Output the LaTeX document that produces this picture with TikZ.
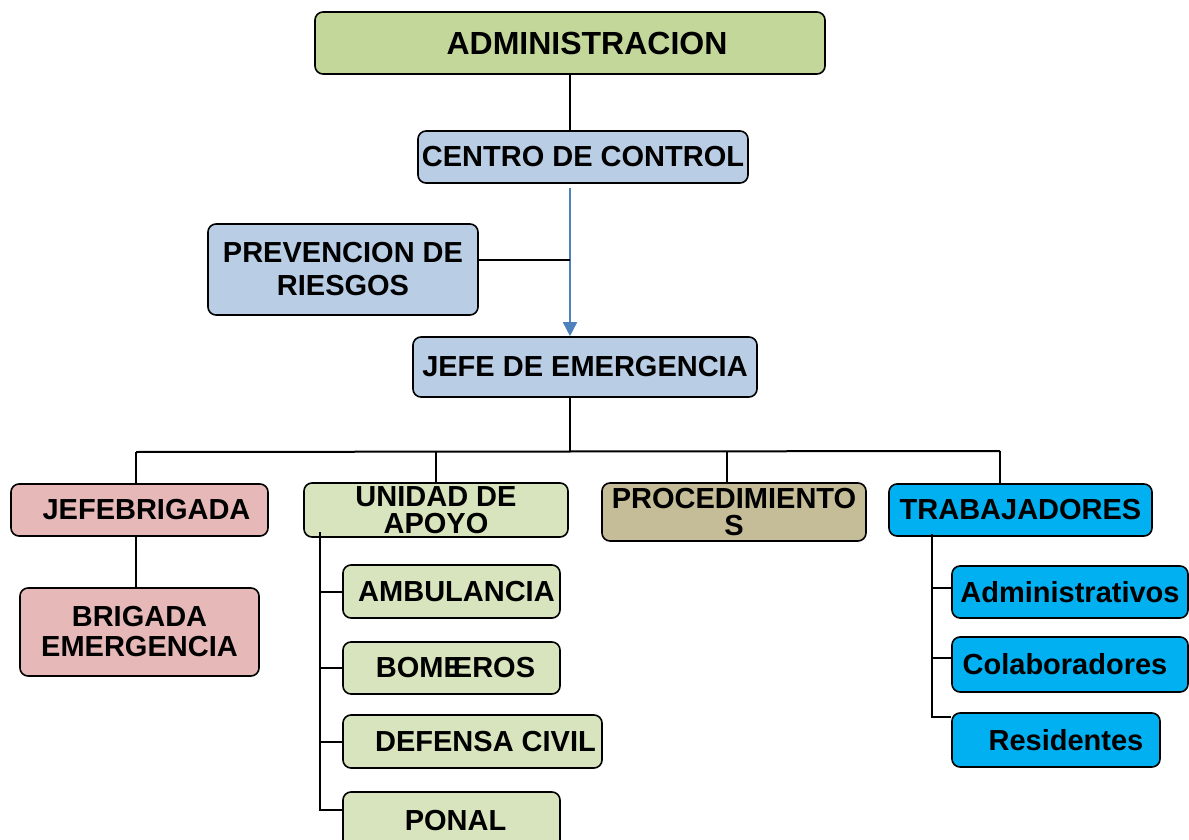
\documentclass[tikz,border=0pt]{standalone}
\usepackage{fontspec}
\setmainfont{Liberation Sans}
\usetikzlibrary{arrows.meta, calc}

\definecolor{verdeadm}{HTML}{C4D79B}
\definecolor{azulgris}{HTML}{B9CDE5}
\definecolor{rosabrig}{HTML}{E6B9B8}
\definecolor{verdeapoyo}{HTML}{D7E4BD}
\definecolor{cafeproc}{HTML}{C4BD97}
\definecolor{celeste}{HTML}{00B0F0}
\definecolor{azulflecha}{HTML}{4F81BD}

\tikzset{
  caja/.style={draw=black, line width=1.6pt, rounded corners=8pt, inner sep=2pt,
    align=center, font=\fontsize{29}{27}\selectfont\bfseries},
  linea/.style={draw=black, line width=2pt},
  flecha/.style={draw=azulflecha, line width=1.6pt, -{Triangle[length=14pt,width=14pt]}}
}

\begin{document}
\begin{tikzpicture}[x=1pt, y=-1pt]
  \useasboundingbox (0,0) rectangle (1189,840);

  % upper chain
  \node[caja, fill=verdeadm, minimum width=510pt, minimum height=62pt,
        font=\fontsize{32}{32}\selectfont\bfseries] (admin) at (570,43) {\hspace*{34pt}ADMINISTRACION};
  \node[caja, fill=azulgris, minimum width=330pt, minimum height=52pt] (centro) at (583,157) {CENTRO DE CONTROL};
  \node[caja, fill=azulgris, minimum width=270pt, minimum height=91pt,
        font=\fontsize{29}{33}\selectfont\bfseries] (prev) at (343,269.5) {PREVENCION DE\\RIESGOS};
  \node[caja, fill=azulgris, minimum width=344pt, minimum height=60pt] (jefe) at (585,367) {JEFE DE EMERGENCIA};

  % second level
  \node[caja, fill=rosabrig, minimum width=257pt, minimum height=52pt] (jb) at (139.5,510) {\hspace*{14pt}JEFEBRIGADA};
  \node[caja, fill=verdeapoyo, minimum width=264pt, minimum height=54pt] (unidad) at (436,510) {UNIDAD DE\\APOYO};
  \node[caja, fill=cafeproc, minimum width=264pt, minimum height=58pt] (proc) at (734,512) {PROCEDIMIENTO\\S};
  \node[caja, fill=celeste, minimum width=263pt, minimum height=52pt] (trab) at (1020.5,510) {TRABAJADORES};

  % third level
  \node[caja, fill=rosabrig, minimum width=239pt, minimum height=88pt,
        font=\fontsize{29}{30}\selectfont\bfseries] (brig) at (139.5,632) {BRIGADA\\EMERGENCIA};
  \node[caja, fill=verdeapoyo, minimum width=217pt, minimum height=53pt] (amb) at (451.5,591.5) {\hspace*{10pt}AMBULANCIA};
  \node[caja, fill=verdeapoyo, minimum width=217pt, minimum height=52pt] (bomb) at (451.5,668) {\hspace*{8pt}BOME\kern-10pt EROS};
  \node[caja, fill=verdeapoyo, minimum width=259pt, minimum height=53pt] (def) at (472.5,741.5) {\hspace*{26pt}DEFENSA CIVIL};
  \node[caja, fill=verdeapoyo, minimum width=217pt, minimum height=58pt] (ponal) at (451.5,821) {\hspace*{8pt}PONAL};
  \node[caja, fill=celeste, minimum width=236pt, minimum height=52pt] (adm2) at (1070,592) {Administrativos};
  \node[caja, fill=celeste, minimum width=236pt, minimum height=55pt] (colab) at (1070,664.5) {Colaboradores\hspace*{10pt}};
  \node[caja, fill=celeste, minimum width=208pt, minimum height=54pt] (resid) at (1056,740) {\hspace*{20pt}Residentes};

  % connectors
  \draw[linea] (admin.south) -- (admin.south |- centro.north);
  \draw[flecha] ([yshift=-4pt]admin.south |- centro.south) -- (admin.south |- jefe.north);
  \draw[linea] ([yshift=10pt]prev.east) -- ([yshift=10pt]prev.east -| admin.south);

  \coordinate (bus) at (570,451);
  \coordinate (b1) at (136,452);
  \coordinate (b2) at (436,451);
  \coordinate (b3) at (727,451);
  \coordinate (b4) at (1000,451);
  \draw[linea] (admin.south |- jefe.south) -- (bus);
  \draw[linea] (b1) -- (b4);
  \draw[linea] (b1) -- (b1 |- jb.north);
  \draw[linea] (b2) -- (b2 |- unidad.north);
  \draw[linea] (b3) -- (b3 |- proc.north);
  \draw[linea] (b4) -- (b4 |- trab.north);
  \draw[linea] (b1 |- jb.south) -- (b1 |- brig.north);

  \coordinate (ua) at (320,532);
  \draw[linea] (ua) |- ([yshift=11pt]ponal.west);
  \foreach \n in {amb,bomb,def}
    \draw[linea] (ua |- \n.west) -- (\n.west);

  \coordinate (ta) at (932,534);
  \draw[linea] (ta) |- ([yshift=23pt]resid.west);
  \draw[linea] (ta |- adm2.west) ++(0,-4) -- ([yshift=4pt]adm2.west);
  \draw[linea] (ta |- colab.west) ++(0,-7) -- ([yshift=7pt]colab.west);
\end{tikzpicture}
\end{document}
